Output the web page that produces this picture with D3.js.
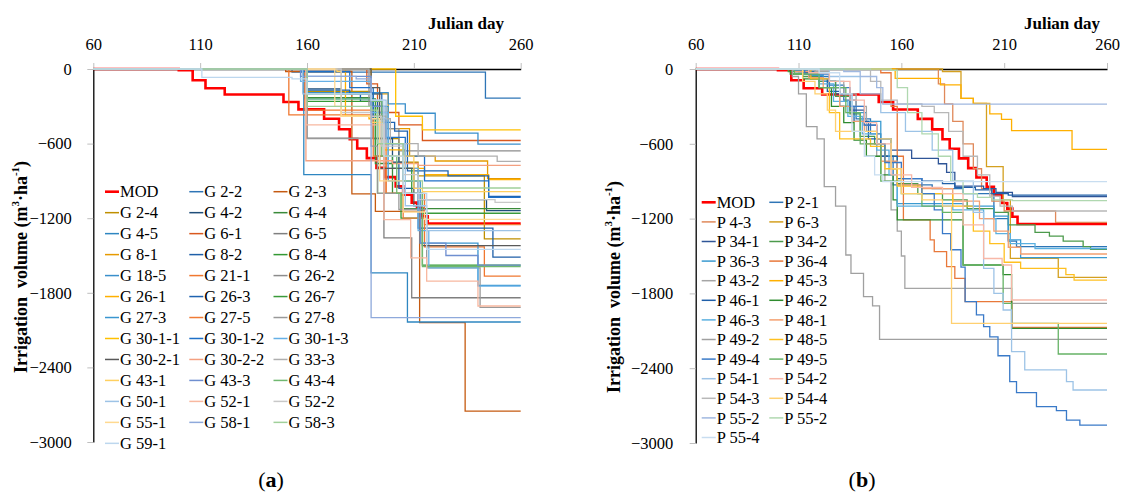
<!DOCTYPE html>
<html><head><meta charset="utf-8">
<script src="https://cdn.jsdelivr.net/npm/d3@7"></script>
<style>
html,body{margin:0;padding:0;background:#fff;}
svg{display:block;}
svg text{font-family:"Liberation Serif","Times New Roman",serif;}
</style></head>
<body><svg id="chart" width="1121" height="494"></svg>
<script>
const dayTicks = [60,110,160,210,260];
const volTicks = [0,-600,-1200,-1800,-2400,-3000];

const modSteps = [[60,0],[100,-10],[106.5,-90],[112.5,-155],[121.5,-205],[149,-265],[156,-325],[168,-400],[175,-484],[180,-564],[183.5,-640],[188,-717],[192.5,-795],[196.5,-870],[201.5,-944],[205,-1011],[209,-1075],[211.5,-1120],[214,-1185],[216.5,-1243],[260,-1243]];

const namesA = ["MOD","G 2-2","G 2-3","G 2-4","G 4-2","G 4-4","G 4-5","G 6-1","G 6-5","G 8-1","G 8-2","G 8-4","G 18-5","G 21-1","G 26-2","G 26-1","G 26-3","G 26-7","G 27-3","G 27-5","G 27-8","G 30-1-1","G 30-1-2","G 30-1-3","G 30-2-1","G 30-2-2","G 33-3","G 43-1","G 43-3","G 43-4","G 50-1","G 52-1","G 52-2","G 55-1","G 58-1","G 58-3","G 59-1"];
const colorsA = ["#ff0000","#2e75b6","#c55a11","#bf8f00","#1f4e79","#3a8b3a","#2e86c1","#d9581e","#7f7f7f","#e69a00","#1f5fa8","#339933","#3a8fcb","#f07830","#8c8c8c","#ffb000","#1f63b0","#3a9a3a","#3a96d0","#f07b36","#999999","#ffc000","#1e70c8","#66b0e6","#595959","#f4a080","#afafaf","#ffd060","#6f8fd0","#70b870","#9dc3e6","#f8b8a0","#c8c8c8","#ffd990","#8ea9db","#a0d09a","#bdd7ee"];
const stepsA = [
  modSteps,
  [[60,0],[153,-25],[243.5,-235],[260,-235]],
  [[60,0],[150,-20],[181,-1005],[192,-1145],[212.7,-2040],[234,-2752],[260,-2752]],
  [[60,0],[158,-180],[190,-380],[197,-560],[203,-750],[212,-860],[243,-1366],[260,-1366]],
  [[60,0],[158,-160],[176,-200],[191,-560],[200,-750],[205,-900],[212,-1050],[244,-1139],[260,-1139]],
  [[60,0],[159,-230],[190,-300],[192,-760],[200,-1000],[205,-1123],[260,-1123]],
  [[60,0],[158.5,-850],[190,-1640],[207,-2035],[260,-2035]],
  [[60,0],[188,-120],[193,-350],[203,-450],[214,-575],[260,-575]],
  [[60,0],[160,-556],[196,-1358],[209,-1840],[260,-1840]],
  [[60,0],[190,-200],[198,-480],[208,-700],[220,-740],[244.5,-882],[260,-882]],
  [[60,0],[159,-190],[185,-260],[193,-600],[203,-960],[212,-1280],[247,-1513],[260,-1513]],
  [[60,0],[160,-260],[191,-300],[193,-1000],[204,-1200],[214,-1577],[260,-1577]],
  [[60,0],[158,-190],[198,-280],[206,-356],[220,-516],[240,-604],[260,-604]],
  [[60,0],[151.5,-369],[190,-400],[197,-1000],[215,-1430],[243,-1666],[260,-1666]],
  [[60,0],[189,-300],[197,-480],[203,-658],[260,-658]],
  [[60,0],[178,-380],[189,-400],[196,-650],[206,-800],[215,-850],[245,-890],[260,-890]],
  [[60,0],[160,-170],[180,-200],[195,-430],[201,-500],[207,-820],[226,-860],[245,-1024],[260,-1024]],
  [[60,0],[160,-200],[190,-240],[192,-700],[200,-800],[209,-1000],[214,-1160],[260,-1160]],
  [[60,0],[159,-240],[190,-300],[198,-900],[213,-1400],[240,-1741],[260,-1741]],
  [[60,0],[159,-330],[191,-700],[197,-1000],[205,-1200],[215,-1251],[260,-1251]],
  [[60,0],[160,-560],[190,-620],[193,-1000],[203,-1130],[216,-1600],[241,-1917],[260,-1917]],
  [[60,0],[201.5,-380],[214,-489],[260,-489]],
  [[60,0],[157,-20],[180,-150],[191,-400],[197,-550],[206,-700],[215,-900],[245,-1032],[260,-1032]],
  [[60,0],[157,-100],[190,-350],[198,-800],[212,-1300],[217,-1600],[240,-1746],[260,-1746]],
  [[60,0],[190,-150],[194,-800],[210,-1100],[214,-1420],[260,-1420]],
  [[60,0],[159.5,-738],[200,-760],[212,-775],[260,-775]],
  [[60,0],[189,-60],[190,-400],[199,-600],[212,-700],[249,-743],[260,-743]],
  [[60,0],[174,-20],[176,-380],[190,-430],[196,-700],[210,-960],[214,-987],[260,-987]],
  [[60,0],[157,-60],[190,-300],[196,-600],[205,-1000],[213,-1400],[225,-1500],[240,-1577],[260,-1577]],
  [[60,0],[160,-240],[190,-260],[195,-700],[202,-1000],[214,-1590],[260,-1590]],
  [[60,0],[158,-200],[190,-250],[197,-600],[206,-1100],[216,-1300],[260,-1300]],
  [[60,0],[159.5,-450],[196,-1211],[208.5,-1519],[216,-1706],[240,-1906],[260,-1906]],
  [[60,0],[176,-350],[190,-380],[195,-620],[205,-850],[212,-1050],[248,-1072],[260,-1072]],
  [[60,0],[173,-300],[176,-380],[190,-400],[194,-900],[205,-1150],[215,-1210],[260,-1210]],
  [[60,0],[160,-60],[183,-80],[190,-2000],[260,-2000]],
  [[60,0],[160,-300],[190,-330],[193,-600],[205,-900],[214,-957],[260,-957]],
  [[60,0],[110.8,-67],[153,-80],[160,-200],[190,-250],[196,-700],[205,-1000],[216,-1450],[260,-1450]]
];

const namesB = ["MOD","P 2-1","P 4-3","P 6-3","P 34-1","P 34-2","P 36-3","P 36-4","P 43-2","P 45-3","P 46-1","P 46-2","P 46-3","P 48-1","P 49-2","P 48-5","P 49-4","P 49-5","P 54-1","P 54-2","P 54-3","P 54-4","P 55-2","P 55-2","P 55-4"];
const colorsB = ["#ff0000","#2e75b6","#e0895a","#d4a020","#2f5597","#4c9a4c","#3a9ad0","#e8783a","#a5a5a5","#ffb000","#1f5fa8","#2e8b2e","#5bb0e0","#f4a070","#a0a0a0","#ffc020","#3a7ac8","#66b366","#9dc3e6","#f8b8a8","#b8b8b8","#ffd070","#a0b8e0","#b0d8b0","#c8ddf0"];
const stepsB = [
  modSteps,
  [[60,0],[110,-20],[118,-60],[125,-130],[132,-250],[138,-400],[145,-520],[150,-700],[156,-930],[175,-960],[190,-1000],[205,-1200],[212,-1380],[216,-1425],[260,-1425]],
  [[60,0],[178,-120],[181,-280],[185,-420],[190,-600],[195,-800],[199,-960],[204,-1060],[210,-1139],[235,-1230],[260,-1230]],
  [[60,0],[180,-20],[189,-235],[195,-275],[201.4,-783],[209.5,-1050],[213,-1519],[236.3,-1671],[260,-1671]],
  [[60,0],[112,-30],[120,-100],[128,-200],[135,-330],[142,-450],[148,-560],[155,-650],[165,-717],[178,-760],[182,-830],[186,-940],[200,-960],[206,-990],[214,-1024],[260,-1024]],
  [[60,0],[105,-20],[112,-60],[120,-100],[128,-220],[135,-360],[140,-540],[147,-600],[152,-700],[158,-920],[168,-1000],[180,-1050],[192,-1120],[205,-1150],[212,-1250],[225,-1310],[232,-1340],[238.7,-1380],[248.4,-1425],[252,-1447],[260,-1447]],
  [[60,0],[108,-10],[115,-50],[122,-100],[130,-200],[136,-350],[143,-420],[150,-560],[155,-800],[158,-1080],[190,-1100],[205,-1180],[212,-1370],[218,-1513],[260,-1513]],
  [[60,0],[150,-30],[155,-300],[158,-700],[161,-1211],[174,-1370],[176,-1465],[182,-1586],[186,-1680],[191,-1866],[213.8,-2072],[260,-2072]],
  [[60,0],[118,-20],[125,-100],[132,-200],[138,-300],[143,-500],[148,-700],[152,-900],[155,-1130],[158,-1300],[160,-1500],[161.7,-1759],[213.6,-1880],[260,-1880]],
  [[60,0],[157,-75],[179,-128],[189,-235],[195,-275],[203,-360],[208.7,-404],[213.6,-495],[243,-645],[260,-645]],
  [[60,0],[108,-20],[116,-80],[124,-180],[130,-300],[137,-420],[144,-560],[150,-700],[158,-880],[170,-900],[180,-920],[186,-950],[196,-970],[204,-1000],[212,-1011],[260,-1011]],
  [[60,0],[106,-40],[112,-80],[120,-150],[126,-300],[132,-430],[137,-570],[143,-700],[150,-850],[156,-1050],[158,-1211],[187,-1211],[190,-1572],[209.5,-1650],[213.6,-2080],[260,-2080]],
  [[60,0],[112,-40],[120,-120],[127,-260],[134,-380],[141,-520],[148,-650],[154,-850],[158,-1100],[185,-1130],[200,-1200],[206,-1320],[213,-1400],[225,-1440],[260,-1440]],
  [[60,0],[108,-20],[115,-70],[122,-150],[130,-300],[136,-420],[142,-600],[150,-740],[158,-930],[170,-960],[185,-1060],[198,-1200],[205,-1300],[212,-1430],[218,-1484],[260,-1484]],
  [[60,0],[107,-60],[110,-200],[113.8,-463],[119,-560],[122.5,-944],[128,-1100],[133,-1492],[135.5,-1640],[141.6,-1826],[146,-1900],[149.4,-2169],[260,-2169]],
  [[60,0],[116,-80],[125,-350],[130,-560],[145,-620],[152,-800],[158,-940],[170,-1000],[185,-1100],[195,-1300],[203,-1400],[210,-1550],[218,-1600],[240,-1650],[244,-1693],[260,-1693]],
  [[60,0],[113,-40],[125,-150],[135,-300],[142,-450],[148,-600],[152,-750],[160,-880],[170,-1000],[176,-1130],[180,-1320],[184,-1450],[189,-1590],[191,-1866],[196.5,-1973],[200,-2067],[203,-2148],[207,-2300],[212.7,-2508],[216,-2596],[225.7,-2709],[235.4,-2740],[240.3,-2816],[246.8,-2856],[260,-2856]],
  [[60,0],[108,-40],[120,-150],[133,-350],[140,-600],[150,-900],[160,-1000],[170,-1100],[180,-1150],[190,-1572],[209.5,-1880],[213.6,-2040],[236.3,-2286],[260,-2286]],
  [[60,0],[125,-60],[140,-200],[150,-350],[162,-500],[175,-650],[185,-900],[195,-1150],[200,-1600],[205,-1800],[209.5,-1933],[213.6,-2267],[220,-2414],[240.3,-2508],[243.5,-2575],[260,-2575]],
  [[60,0],[115,-30],[125,-100],[135,-250],[142,-430],[148,-600],[155,-850],[165,-950],[180,-1000],[190,-1250],[200,-1520],[209,-1572],[213.6,-1853],[260,-1853]],
  [[60,0],[145,-100],[150,-250],[158,-280],[170,-300],[176,-350],[183,-500],[190,-700],[197,-850],[203,-1020],[208,-1100],[214,-1139],[260,-1139]],
  [[60,0],[112,-100],[118,-200],[124,-330],[128,-500],[148,-560],[155,-800],[160,-1000],[170,-1050],[180,-1100],[184.4,-2040],[260,-2040]],
  [[60,0],[132,-20],[140,-60],[148,-150],[151,-281],[260,-281]],
  [[60,0],[155,-10],[158,-150],[163,-350],[170,-520],[178,-700],[184,-900],[190,-1000],[197,-1030],[204,-1050],[214,-1056],[260,-1056]],
  [[60,0],[120,-30],[130,-200],[136,-500],[142,-700],[147,-850],[151,-904],[260,-904]]
];

const svg = d3.select("#chart");
svg.append("rect").attr("width",1121).attr("height",494).attr("fill","#fff");

function drawPanel(cfg){
  const g = svg.append("g");
  const x = d3.scaleLinear().domain([60,260]).range(cfg.xr);
  const y = d3.scaleLinear().domain([0,-3000]).range(cfg.yr);
  const fmt = d => d === 0 ? "0" : "\u2212" + Math.abs(d);

  const ya = g.append("g").attr("transform",`translate(${cfg.xr[0]},0)`)
    .call(d3.axisLeft(y).tickValues(volTicks).tickSize(6).tickSizeOuter(0).tickPadding(cfg.yPad).tickFormat(fmt));
  ya.select(".domain").attr("stroke","#000").attr("stroke-width",1.3);
  ya.selectAll(".tick line").attr("stroke","#bfbfbf");
  ya.selectAll(".tick text").attr("font-size",16.5).attr("fill","#000");

  const xa = g.append("g").attr("transform",`translate(0,${cfg.yr[0]})`)
    .call(d3.axisTop(x).tickValues(dayTicks).tickSize(6).tickSizeOuter(0).tickPadding(13).tickFormat(d3.format("d")));
  xa.select(".domain").attr("stroke","#000").attr("stroke-width",1.3);
  xa.selectAll(".tick line").attr("stroke","#bfbfbf");
  xa.selectAll(".tick text").attr("font-size",16.5).attr("fill","#000");

  const line = d3.line().x(d => x(d[0])).y(d => y(d[1])).curve(d3.curveStepAfter);
  cfg.steps.forEach((s,i) => {
    g.append("path").attr("d", line(s)).attr("fill","none")
      .attr("stroke", cfg.colors[i]).attr("stroke-width", i === 0 ? 2.6 : 1.3);
  });

  cfg.names.forEach((n,i) => {
    const col = i % cfg.cols, row = Math.floor(i / cfg.cols);
    const lx = cfg.legX[col], ly = cfg.legY + row * cfg.legDy;
    g.append("line").attr("x1",lx).attr("x2",lx+14).attr("y1",ly).attr("y2",ly)
      .attr("stroke",cfg.colors[i]).attr("stroke-width", i === 0 ? 2.6 : 1.5);
    g.append("text").attr("x",lx+15).attr("y",ly).attr("dy","0.35em")
      .attr("font-size",16.5).attr("fill","#000").text(n);
  });

  g.append("text").attr("x",cfg.jdX).attr("y",29).attr("text-anchor","middle")
    .attr("font-weight","bold").attr("font-size",17).text("Julian day");

  const yt = g.append("text").attr("transform",`translate(${cfg.ytX},${cfg.ytY}) rotate(-90)`)
    .attr("text-anchor","middle").attr("dominant-baseline","central")
    .attr("font-weight","bold").attr("font-size",18);
  yt.append("tspan").text("Irrigation\u00a0 volume (m");
  yt.append("tspan").attr("font-size",11).attr("dy",-6).text("3");
  yt.append("tspan").attr("dy",6).text("\u00b7ha");
  yt.append("tspan").attr("font-size",11).attr("dy",-6).text("-1");
  yt.append("tspan").attr("dy",6).text(")");

  const pl = g.append("text").attr("x",cfg.plX).attr("y",487).attr("text-anchor","middle").attr("font-size",22);
  pl.append("tspan").text("(");
  pl.append("tspan").attr("font-weight","bold").text(cfg.letter);
  pl.append("tspan").text(")");
}

drawPanel({xr:[93.3,520.7], yr:[69,442], yPad:15.5, names:namesA, colors:colorsA, steps:stepsA,
  cols:3, legX:[105,189.3,273.5], legY:191.7, legDy:20.97, jdX:466, ytX:21, ytY:267, plX:271, letter:"a"});
drawPanel({xr:[695.7,1107], yr:[69,443], yPad:16.5, names:namesB, colors:colorsB, steps:stepsB,
  cols:2, legX:[701.7,769.3], legY:202.3, legDy:19.6, jdX:1062, ytX:614, ytY:287, plX:862, letter:"b"});
</script>
</body></html>
